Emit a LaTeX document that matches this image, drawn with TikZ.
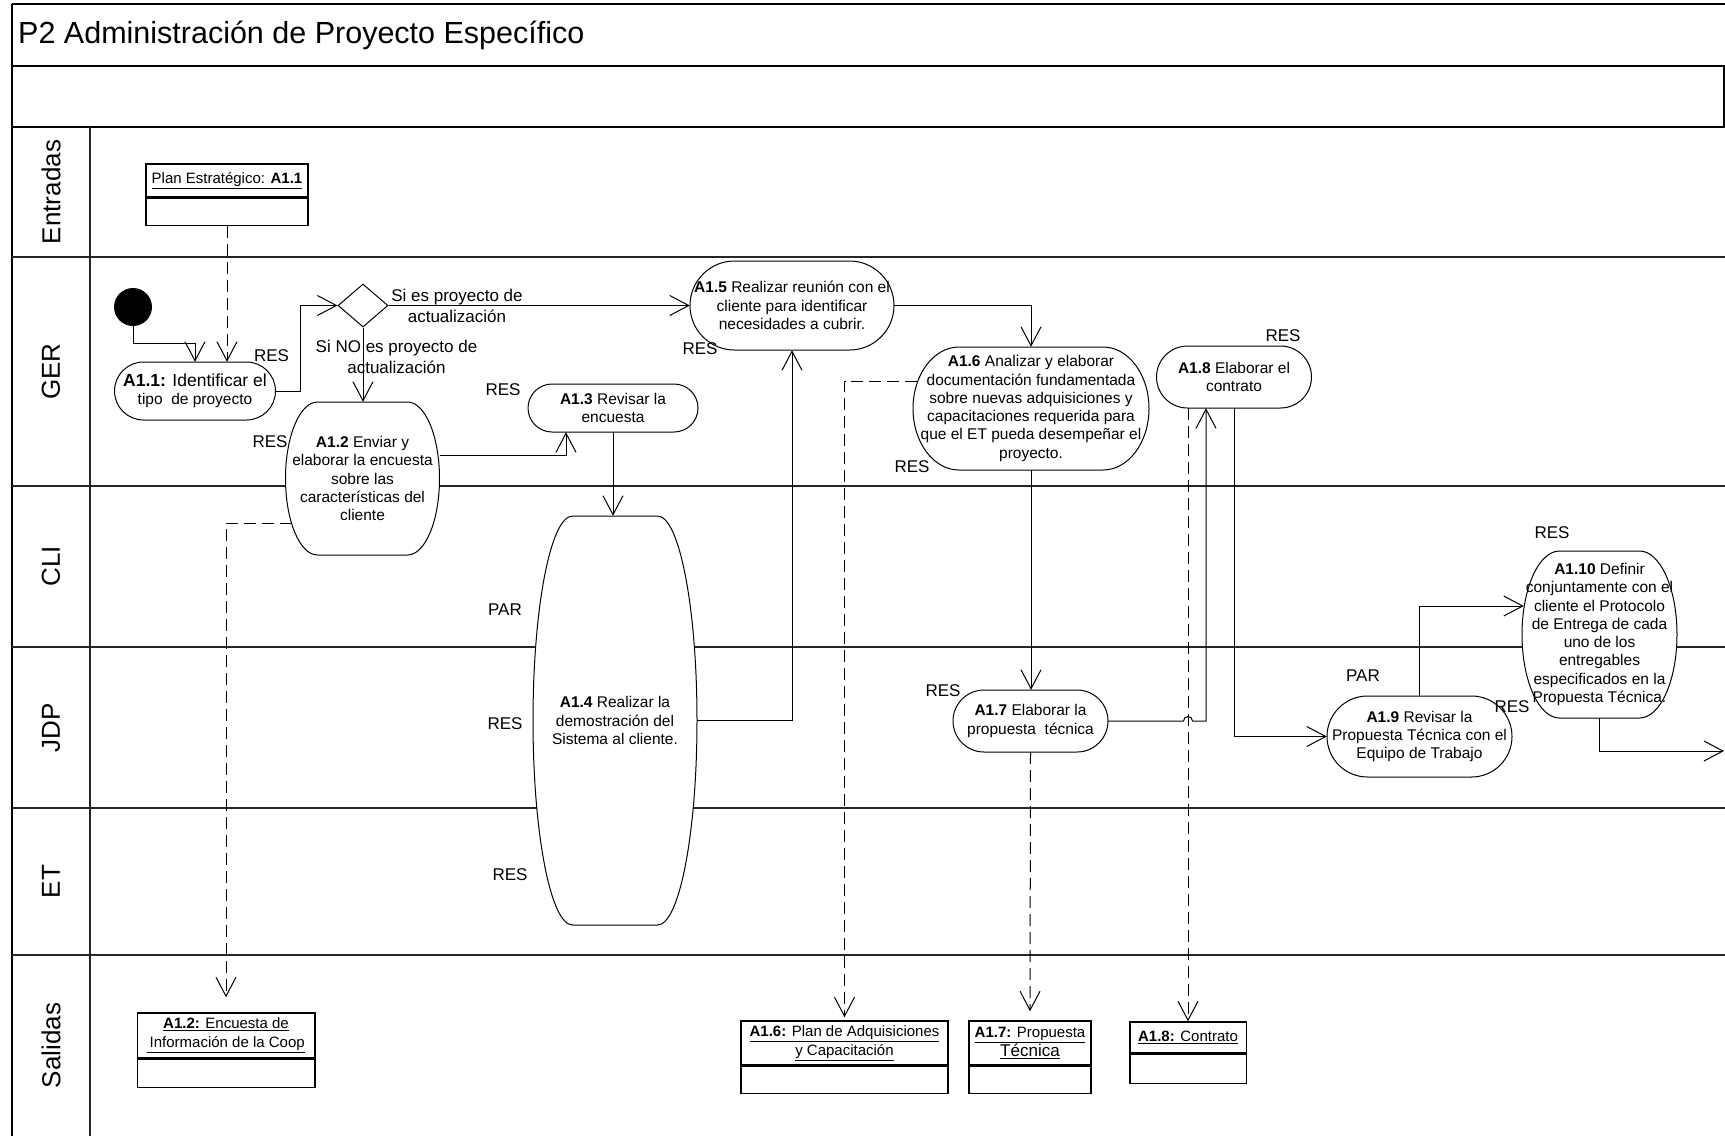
\documentclass[tikz,border=0pt]{standalone}
\usepackage{fontspec}
\setmainfont{Liberation Sans}
\usetikzlibrary{arrows.meta,shapes.geometric,calc}

\tikzset{
  frameln/.style={line width=1.6pt, draw=black},
  laneln/.style={line width=1.3pt, draw=black!85},
  shapeln/.style={line width=1pt, draw=black, fill=white},
  conn/.style={line width=1pt},
  arr/.style={conn, -{Straight Barb[length=19pt,width=20pt,line width=1pt]}},
  darr/.style={arr, dash pattern=on 12pt off 6pt},
  acttxt/.style={inner sep=0pt, align=center, font=\fontsize{15.5}{18.3}\selectfont},
  lbl/.style={inner sep=0pt, font=\fontsize{17}{21}\selectfont, align=center},
  lanelbl/.style={rotate=90, inner sep=0pt, font=\fontsize{26}{30}\selectfont},
  obox/.style={draw, line width=1.5pt, inner sep=0pt, align=center, font=\fontsize{15}{19}\selectfont},
}

% activity: name, cx, cy, w, h, R, text
\newcommand\act[7]{%
  \filldraw[shapeln] ({#2-#4/2+#6},{#3-#5/2}) -- ({#2+#4/2-#6},{#3-#5/2})
   .. controls +({0.552*#6},0) and +(0,{-0.552*#5/2}) .. ({#2+#4/2},#3)
   .. controls +(0,{0.552*#5/2}) and +({0.552*#6},0) .. ({#2+#4/2-#6},{#3+#5/2})
   -- ({#2-#4/2+#6},{#3+#5/2})
   .. controls +({-0.552*#6},0) and +(0,{0.552*#5/2}) .. ({#2-#4/2},#3)
   .. controls +(0,{-0.552*#5/2}) and +({-0.552*#6},0) .. ({#2-#4/2+#6},{#3-#5/2}) -- cycle;
  \node[acttxt, minimum width=#4pt, minimum height=#5pt] (#1) at (#2,#3) {#7};
}

\begin{document}
\begin{tikzpicture}[x=1pt, y=-1pt]
\useasboundingbox[fill=white] (0,0) rectangle (1725,1136);

% ---- frame ----
\draw[frameln] (12,4) -- (1725,4);
\draw[frameln] (12,66) -- (1725,66);
\draw[frameln] (12,127) -- (1725,127);
\draw[frameln] (1724,66) -- (1724,127);
\draw[frameln] (12,4) -- (12,1136);
\draw[laneln] (12,257) -- (1725,257);
\draw[laneln] (12,486) -- (1725,486);
\draw[laneln] (12,647) -- (1725,647);
\draw[laneln] (12,808) -- (1725,808);
\draw[laneln] (12,955) -- (1725,955);
\draw[laneln] (90,127) -- (90,1136);

\node[anchor=west, inner sep=0pt, font=\fontsize{30.5}{36}\selectfont] (title) at (18,35) {P2 Administración de Proyecto Específico};

\node[lanelbl] (lE) at (51,192) {Entradas};
\node[lanelbl] (lG) at (51,371.5) {GER};
\node[lanelbl] (lC) at (51,566.5) {CLI};
\node[lanelbl] (lJ) at (51,727.5) {JDP};
\node[lanelbl] (lT) at (51,881.5) {ET};
\node[lanelbl] (lS) at (51,1045.5) {Salidas};

% ---- input / output boxes ----
\node[obox, minimum width=162pt, minimum height=33pt] (plant) at (227,180.5) {\underline{Plan Estratégico: \textbf{A1.1}}};
\node[obox, minimum width=162pt, minimum height=27pt, anchor=north] (planb) at (plant.south) {};

\node[obox, minimum width=177.5pt, minimum height=45pt] (o12t) at (226,1035.5) {\underline{\textbf{A1.2:} Encuesta de}\\\underline{\,Información de la Coop}};
\node[obox, minimum width=177.5pt, minimum height=28pt, anchor=north] (o12b) at (o12t.south) {};

\node[obox, minimum width=207pt, minimum height=44pt] (o16t) at (844.5,1043) {\underline{\textbf{A1.6:} Plan de Adquisiciones}\\\underline{y Capacitación}};
\node[obox, minimum width=207pt, minimum height=27pt, anchor=north] (o16b) at (o16t.south) {};

\node[obox, minimum width=122pt, minimum height=44pt] (o17t) at (1030,1043) {\underline{\textbf{A1.7:} Propuesta}\\{\fontsize{17}{19}\selectfont\underline{Técnica}}};
\node[obox, minimum width=122pt, minimum height=27pt, anchor=north] (o17b) at (o17t.south) {};

\node[obox, minimum width=116.5pt, minimum height=31pt] (o18t) at (1188,1037.5) {\underline{\textbf{A1.8:} Contrato}};
\node[obox, minimum width=116.5pt, minimum height=29pt, anchor=north] (o18b) at (o18t.south) {};

% ---- activities ----
\act{A11}{195}{391}{161}{58}{29}{\fontsize{17.5}{21}\selectfont\textbf{A1.1:} Identificar el\\tipo \ de proyecto}
\act{A12}{362.5}{478.5}{154}{153}{32}{\textbf{A1.2} Enviar y\\elaborar la encuesta\\sobre las\\características del\\cliente}
\act{A13}{613}{408}{170}{48}{24}{\textbf{A1.3} Revisar la\\encuesta}
\act{A14}{615}{720.5}{164}{409}{39.5}{\textbf{A1.4} Realizar la\\demostración del\\Sistema al cliente.}
\act{A15}{792}{305.5}{204}{89}{44.5}{\textbf{A1.5} Realizar reunión con el\\cliente para identificar\\necesidades a cubrir.}
\act{A16}{1031}{408.5}{236}{123}{46}{\textbf{A1.6} Analizar y elaborar\\documentación fundamentada\\sobre nuevas adquisiciones y\\capacitaciones requerida para\\que el ET pueda desempeñar el\\proyecto.}
\act{A17}{1030.5}{721}{155}{62}{31}{\textbf{A1.7} Elaborar la\\propuesta \ técnica}
\act{A18}{1234}{377}{155}{62}{31}{\textbf{A1.8} Elaborar el\\contrato}
\act{A19}{1419.5}{736.5}{185}{81}{40.5}{\textbf{A1.9} Revisar la\\Propuesta Técnica con el\\Equipo de Trabajo}
\act{A110}{1599.5}{634.5}{155}{167}{37.5}{\textbf{A1.10} Definir\\conjuntamente con el\\cliente el Protocolo\\de Entrega de cada\\uno de los\\entregables\\especificados en la\\Propuesta Técnica.}

\node[circle, fill=black, minimum size=38pt, inner sep=0pt] (start) at (133,307) {};
\node[diamond, draw, line width=1pt, fill=white, minimum width=50pt, minimum height=43pt, inner sep=0pt] (dec) at (363,305.5) {};

% ---- labels ----
\node[lbl] (ls1) at (457,305.5) {Si es proyecto de\\actualización};
\node[lbl] (ls2) at (396.5,356.5) {Si NO es proyecto de\\actualización};
\node[lbl] (r1) at (271.5,356) {RES};
\node[lbl] (r2) at (270,442) {RES};
\node[lbl] (r3) at (503,390) {RES};
\node[lbl] (r5) at (700,349) {RES};
\node[lbl] (r6) at (912,467) {RES};
\node[lbl] (r8) at (1283,336) {RES};
\node[lbl] (p4) at (505,610) {PAR};
\node[lbl] (r4a) at (505,724) {RES};
\node[lbl] (r4b) at (510,875) {RES};
\node[lbl] (r7) at (943,691) {RES};
\node[lbl] (p9) at (1363,676) {PAR};
\node[lbl] (r9) at (1512,707) {RES};
\node[lbl] (r10) at (1552,533) {RES};

% ---- connectors ----
\draw[arr] (start.south) |- (A11.north |- 0,343) -- (A11.north);
\draw[darr] (planb.south) -- (planb.south |- A11.north);
\draw[arr] (A11.east) -- ++(24.4,0) |- (dec.west);
\draw[arr] (dec.east) -- (A15.west);
\draw[arr] (dec.south) -- (dec.south |- A12.north);
\coordinate (k13) at ([xshift=-47pt]A13.south);
\draw[arr] (A12.east |- 0,455) -| (k13);
\draw[arr] (A13.south) -- (A13.south |- A14.north);
\draw[arr] (A14.east) -| (A15.south);
\draw[arr] (A15.east) -| (A16.north);
\draw[arr] (A16.south) -- (A16.south |- A17.north);
\coordinate (k16) at ([xshift=4.5pt,yshift=27.5pt]A16.west);
\draw[darr] (k16) -| ([yshift=3pt]o16t.north);
\coordinate (k18) at ([xshift=-28pt]A18.south);
\coordinate (jp) at (o18t.north |- A17.east);
\draw[arr] (A17.east) -- ([xshift=-4.5pt]jp)
   arc[start angle=180, end angle=0, radius=4.5pt] -- (k18 |- A17.east) -- (k18);
\draw[darr] (o18t.north |- A18.south) -- (o18t.north);
\draw[darr] (A17.south) -- ([yshift=9pt]o17t.north);
\draw[arr] (A18.south) |- (A19.west);
\draw[arr] (A19.north) |- ([xshift=2pt,yshift=28.5pt]A110.west);
\coordinate (outr) at (1724,751);
\draw[arr] (A110.south) |- (outr);
\coordinate (k12) at ([xshift=6.5pt,yshift=-44.5pt]A12.west);
\draw[darr] (k12) -| ([yshift=15pt]o12t.north);
\end{tikzpicture}
\end{document}
